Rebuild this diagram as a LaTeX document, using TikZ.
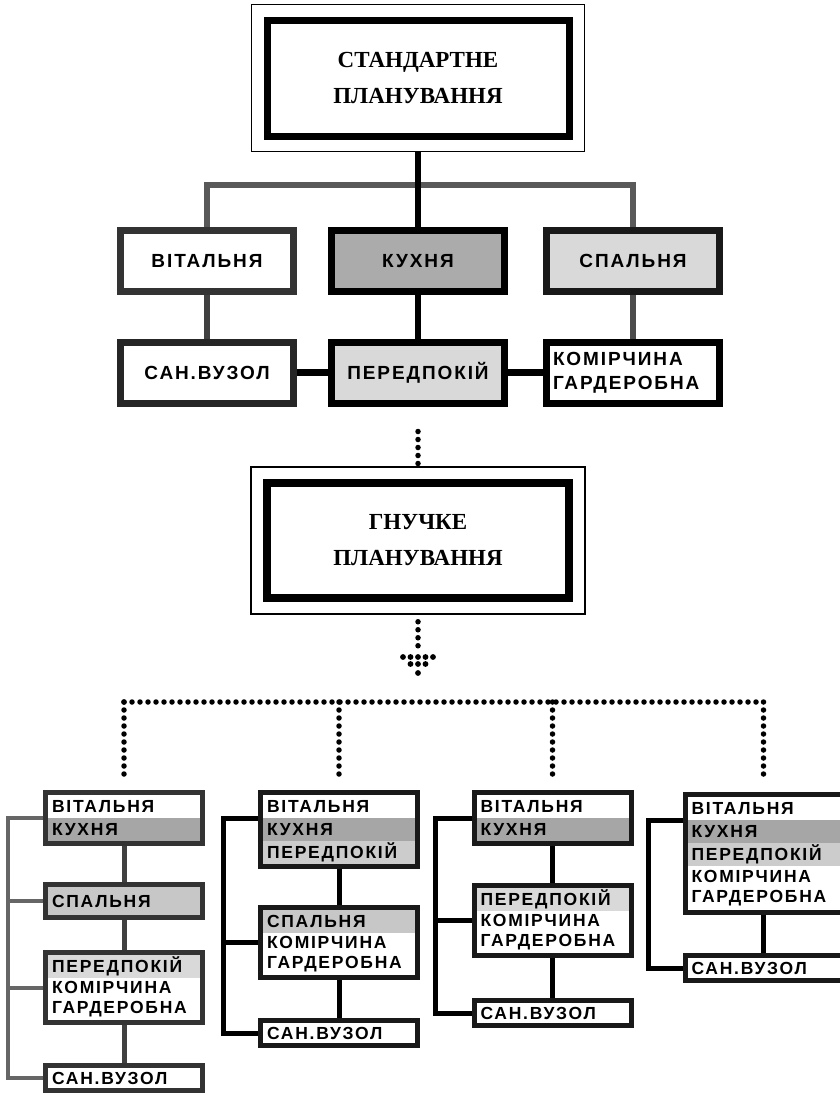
\documentclass[tikz,border=0pt]{standalone}
\usepackage{fontspec}
\setmainfont{Liberation Serif}
\newfontfamily\roomfont{Liberation Sans}[LetterSpace=10]
\usetikzlibrary{positioning,fit}

\tikzset{
  plantitle/.style={rectangle, draw, line width=7pt, minimum width=302pt, minimum height=116pt, align=center, font=\bfseries\fontsize{23}{36}\selectfont},
  outerframe/.style={rectangle, draw, line width=1.5pt, inner sep=12pt},
  bigroom/.style={rectangle, draw, line width=7pt, minimum width=173pt, minimum height=61pt, inner sep=0pt, font=\roomfont\bfseries\fontsize{19}{24}\selectfont},
  roomrow/.style={rectangle, inner sep=0pt, outer sep=0pt, minimum width=152pt, minimum height=23pt, text width=144pt, align=left, font=\roomfont\bfseries\fontsize{17.5}{20}\selectfont},
  roombox/.style={rectangle, draw, line width=5pt, inner sep=2.5pt},
  link/.style={line width=6pt, line join=miter},
  dotline/.style={line width=5.5pt, line cap=round, dash pattern=on 0pt off 8pt},
}

\begin{document}
\begin{tikzpicture}[x=1pt, y=-1pt]
	\useasboundingbox[fill=white] (0,0) rectangle (840,1095);

	% Standard plan
	\node [plantitle] (std) at (418,78) {СТАНДАРТНЕ\\ПЛАНУВАННЯ};
	\node [outerframe, fit=(std)] (stdbox) {};

	\node [bigroom, draw=black!80]					(vit) at (207,261)   {ВІТАЛЬНЯ};
	\node [bigroom, fill=black!33]					(kux) at (418,261)   {КУХНЯ};
	\node [bigroom, fill=black!15, draw=black!90]	(spa) at (633,261)   {СПАЛЬНЯ};
	\node [bigroom, draw=black!85]					(san) at (207,372.5) {САН.ВУЗОЛ};
	\node [bigroom, fill=black!15]					(per) at (418,372.5) {ПЕРЕДПОКІЙ};
	\node [bigroom, text width=160pt, align=left]	(kom) at (633,372.5) {КОМІРЧИНА\\ГАРДЕРОБНА};

	\coordinate (bus) at (418,185);
	\draw [link, black!65] (vit.north) -- (vit.north |- bus) -- (spa.north |- bus) -- (spa.north);
	\draw [link] (stdbox) -- (kux);
	\draw [link, black!75] (vit) -- (san);
	\draw [link] (kux) -- (per);
	\draw [link, black!70] (spa) -- (kom);
	\draw [link, line width=7pt] (san) -- (per);
	\draw [link, line width=7pt] (per) -- (kom);

	% Flexible plan
	\draw [dotline, shorten <=25pt] (per) -- (418,467);
	\node [plantitle, line width=8pt, minimum height=115pt] (flex) at (418,540.5) {ГНУЧКЕ\\ПЛАНУВАННЯ};
	\node [outerframe, fit=(flex)] (flexbox) {};

	\coordinate (tip) at (418,673);
	\draw [dotline, shorten <=7pt, shorten >=22pt] (flexbox) -- (tip);
	\foreach \dx in {-15,-7.5,0,7.5,15}
		\fill ([xshift=\dx pt, yshift=16pt]tip) circle [radius=2.9pt];
	\foreach \dx in {-7.5,0,7.5}
		\fill ([xshift=\dx pt, yshift=9pt]tip) circle [radius=2.9pt];
	\fill (tip) circle [radius=2.9pt];

	% Variant 1
	\node [roomrow, fill=white, anchor=north]				(v1) at (124,795) {ВІТАЛЬНЯ};
	\node [roomrow, fill=black!35, below=0pt of v1]		(k1) {КУХНЯ};
	\node [roombox, draw=black!80, fit=(v1)(k1)]			(a1) {};
	\node [roomrow, fill=black!22, minimum height=28pt, anchor=north] (s1) at (124,887) {СПАЛЬНЯ};
	\node [roombox, draw=black!80, fit=(s1)]				(b1) {};
	\node [roomrow, fill=black!15, anchor=north]			(p1) at (124,955) {ПЕРЕДПОКІЙ};
	\node [roomrow, fill=white, minimum height=42pt, below=0pt of p1] (g1) {КОМІРЧИНА\\ГАРДЕРОБНА};
	\node [roombox, draw=black!80, fit=(p1)(g1)]			(c1) {};
	\node [roomrow, fill=white, minimum height=20pt, anchor=north] (w1) at (124,1068) {САН.ВУЗОЛ};
	\node [roombox, draw=black!80, fit=(w1)]				(d1) {};

	\draw [link, line width=5pt, black!75] (a1) -- (b1);
	\draw [link, line width=5pt, black!75] (b1) -- (c1);
	\draw [link, line width=5pt, black!75] (c1) -- (d1);
	\coordinate (rail1) at (8,0);
	\draw [link, line width=4pt, black!60] (a1.west |- v1.south) -- (rail1 |- v1.south) -- (rail1 |- d1.west) -- (d1.west);
	\draw [link, line width=4pt, black!60] (b1.west) -- (rail1 |- b1.west);
	\draw [link, line width=4pt, black!60] (c1.west) -- (rail1 |- c1.west);

	% Variant 2
	\node [roomrow, fill=white, anchor=north]				(v2) at (339,795) {ВІТАЛЬНЯ};
	\node [roomrow, fill=black!35, below=0pt of v2]		(k2) {КУХНЯ};
	\node [roomrow, fill=black!20, below=0pt of k2]		(p2) {ПЕРЕДПОКІЙ};
	\node [roombox, draw=black!90, fit=(v2)(p2)]			(a2) {};
	\node [roomrow, fill=black!22, anchor=north]			(s2) at (339,910) {СПАЛЬНЯ};
	\node [roomrow, fill=white, minimum height=42pt, below=0pt of s2] (g2) {КОМІРЧИНА\\ГАРДЕРОБНА};
	\node [roombox, draw=black!90, fit=(s2)(g2)]			(b2) {};
	\node [roomrow, fill=white, minimum height=20pt, anchor=north] (w2) at (339,1023) {САН.ВУЗОЛ};
	\node [roombox, draw=black!90, fit=(w2)]				(d2) {};

	\draw [link, line width=5pt] (a2) -- (b2);
	\draw [link, line width=5pt] (b2) -- (d2);
	\coordinate (rail2) at (223,0);
	\draw [link, line width=5pt] (a2.west |- v2.south) -- (rail2 |- v2.south) -- (rail2 |- d2.west) -- (d2.west);
	\draw [link, line width=5pt] (b2.west) -- (rail2 |- b2.west);

	% Variant 3
	\node [roomrow, fill=white, anchor=north]				(v3) at (552.5,795) {ВІТАЛЬНЯ};
	\node [roomrow, fill=black!35, below=0pt of v3]		(k3) {КУХНЯ};
	\node [roombox, draw=black!90, fit=(v3)(k3)]			(a3) {};
	\node [roomrow, fill=black!15, anchor=north]			(p3) at (552.5,888) {ПЕРЕДПОКІЙ};
	\node [roomrow, fill=white, minimum height=42pt, below=0pt of p3] (g3) {КОМІРЧИНА\\ГАРДЕРОБНА};
	\node [roombox, draw=black!90, fit=(p3)(g3)]			(b3) {};
	\node [roomrow, fill=white, minimum height=20pt, anchor=north] (w3) at (552.5,1003) {САН.ВУЗОЛ};
	\node [roombox, draw=black!90, fit=(w3)]				(d3) {};

	\draw [link, line width=5pt] (a3) -- (b3);
	\draw [link, line width=5pt] (b3) -- (d3);
	\coordinate (rail3) at (435,0);
	\draw [link, line width=5pt] (a3.west |- v3.south) -- (rail3 |- v3.south) -- (rail3 |- d3.west) -- (d3.west);
	\draw [link, line width=5pt] (b3.west) -- (rail3 |- b3.west);

	% Variant 4
	\node [roomrow, fill=white, anchor=north]				(v4) at (763.5,797) {ВІТАЛЬНЯ};
	\node [roomrow, fill=black!35, below=0pt of v4]		(k4) {КУХНЯ};
	\node [roomrow, fill=black!20, below=0pt of k4]		(p4) {ПЕРЕДПОКІЙ};
	\node [roomrow, fill=white, minimum height=44pt, below=0pt of p4] (g4) {КОМІРЧИНА\\ГАРДЕРОБНА};
	\node [roombox, draw=black!90, fit=(v4)(g4)]			(a4) {};
	\node [roomrow, fill=white, minimum height=20pt, anchor=north] (w4) at (763.5,958) {САН.ВУЗОЛ};
	\node [roombox, draw=black!90, fit=(w4)]				(d4) {};

	\draw [link, line width=5pt] (a4) -- (d4);
	\coordinate (rail4) at (648,0);
	\draw [link, line width=5pt] (a4.west |- v4.south) -- (rail4 |- v4.south) -- (rail4 |- d4.west) -- (d4.west);

	% Dotted bus to the variants
	\coordinate (dbus) at (418,702);
	\draw [dotline] (a1.north |- dbus) -- (a4.north |- dbus);
	\foreach \c in {a1,a2,a3,a4}
		\draw [dotline, shorten >=12pt] (\c.north |- dbus) -- (\c.north);

\end{tikzpicture}
\end{document}
